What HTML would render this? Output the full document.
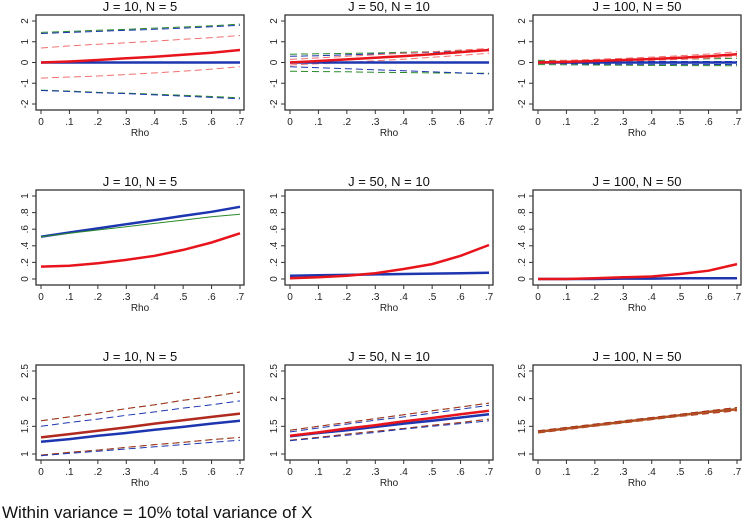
<!DOCTYPE html>
<html><head><meta charset="utf-8"><style>
body{margin:0;background:#fff;width:745px;height:524px;overflow:hidden;font-family:"Liberation Sans",sans-serif}
svg text{font-family:"Liberation Sans",sans-serif}
</style></head><body>
<svg id="chart" width="745" height="524" xmlns="http://www.w3.org/2000/svg">
<text x="2" y="518" font-size="17" fill="#111">Within variance = 10% total variance of X</text>
</svg>
<script>
const rho=[0,.1,.2,.3,.4,.5,.6,.7];
const xTicks=["0",".1",".2",".3",".4",".5",".6",".7"];
const titles=["J = 10, N = 5","J = 50, N = 10","J = 100, N = 50"];
const yTicksRow1=[-2,-1,0,1,2];
const yTicksRow2=[0,.2,.4,.6,.8,1];
const yTicksRow3=[1,1.5,2,2.5];
const yLabRow1=["-2","-1","0","1","2"];
const yLabRow2=["0",".2",".4",".6",".8","1"];
const yLabRow3=["1","1.5","2","2.5"];
// Row 1
const p11BlueSolid=[0,0,0,0,0,0,0,0];
const p11RedSolid=[0,.05,.12,.2,.28,.37,.47,.6];
const p11RedUp=[.7,.8,.88,.95,1.03,1.12,1.2,1.3];
const p11RedLo=[-.75,-.7,-.65,-.58,-.5,-.42,-.32,-.2];
const p11BlueUp=[1.4,1.45,1.5,1.55,1.6,1.66,1.72,1.8];
const p11GreenUp=[1.45,1.5,1.55,1.6,1.66,1.71,1.77,1.85];
const p11BlueLo=[-1.35,-1.4,-1.46,-1.5,-1.56,-1.62,-1.68,-1.75];
const p11GreenLo=[-1.33,-1.38,-1.44,-1.48,-1.53,-1.58,-1.64,-1.7];
const p12BlueSolid=[0,0,0,0,0,0,0,0];
const p12RedSolid=[0,.07,.15,.23,.31,.4,.5,.6];
const p12RedUp=[.15,.22,.3,.37,.45,.52,.6,.68];
const p12RedLo=[-.12,-.06,0,.08,.16,.25,.34,.45];
const p12GreenUp=[.4,.42,.44,.46,.49,.52,.56,.6];
const p12GreenLo=[-.42,-.44,-.45,-.47,-.48,-.5,-.51,-.52];
const p12BlueUp=[.3,.33,.37,.41,.45,.49,.53,.57];
const p12BlueLo=[-.2,-.25,-.3,-.35,-.4,-.45,-.5,-.55];
const p13BlueSolid=[0,0,0,0,0,0,0,0];
const p13RedSolid=[0,.03,.07,.12,.17,.23,.3,.4];
const p13RedUp=[.05,.1,.15,.2,.26,.33,.41,.52];
const p13RedLo=[-.05,-.02,.02,.06,.1,.15,.21,.3];
const p13GreenUp=[.1,.1,.11,.12,.14,.16,.18,.2];
const p13GreenLo=[-.1,-.11,-.12,-.13,-.14,-.15,-.15,-.16];
const p13BlueUp=[.05,.05,.05,.05,.05,.05,.05,.05];
const p13BlueLo=[-.05,-.06,-.07,-.08,-.08,-.09,-.09,-.1];
// Row 2
const p21Blue=[.51,.56,.61,.66,.71,.76,.81,.87];
const p21Green=[.51,.55,.59,.63,.67,.71,.75,.78];
const p21Red=[.15,.16,.19,.23,.28,.35,.44,.55];
const p22Blue=[.04,.045,.05,.055,.06,.065,.07,.075];
const p22Red=[.01,.02,.04,.07,.12,.18,.28,.41];
const p23Blue=[0,0,0,.005,.005,.01,.01,.01];
const p23Red=[0,0,.01,.02,.03,.06,.1,.18];
// Row 3
const p31RedSolid=[1.3,1.36,1.42,1.48,1.55,1.61,1.67,1.73];
const p31BlueSolid=[1.22,1.27,1.33,1.38,1.44,1.49,1.55,1.6];
const p31GreenUp=[1.6,1.67,1.74,1.82,1.89,1.97,2.04,2.12];
const p31BlueUp=[1.5,1.57,1.63,1.7,1.76,1.83,1.89,1.96];
const p31GreenLo=[.98,1.03,1.07,1.12,1.17,1.21,1.26,1.3];
const p31BlueLo=[.97,1.01,1.05,1.09,1.13,1.17,1.21,1.25];
const p32RedSolid=[1.33,1.39,1.46,1.52,1.59,1.65,1.72,1.78];
const p32BlueSolid=[1.32,1.38,1.43,1.49,1.55,1.6,1.66,1.72];
const p32GreenUp=[1.43,1.5,1.57,1.64,1.71,1.78,1.85,1.92];
const p32BlueUp=[1.4,1.47,1.54,1.61,1.67,1.74,1.81,1.88];
const p32GreenLo=[1.25,1.3,1.36,1.41,1.46,1.52,1.57,1.63];
const p32BlueLo=[1.24,1.29,1.34,1.39,1.45,1.5,1.55,1.6];
const p33RedSolid=[1.4,1.46,1.52,1.58,1.64,1.7,1.76,1.81];
const p33Up=[1.42,1.48,1.54,1.6,1.66,1.72,1.78,1.84];
const p33Lo=[1.38,1.44,1.5,1.56,1.62,1.68,1.73,1.78];

const RED="#e8141c",BLUE="#1d36b0",GREEN="#2a8a2a",LRED="#f07070";
const panels=[
 {r:0,c:0,yt:yTicksRow1,yl:yLabRow1,s:[[p11GreenUp,GREEN,1,1],[p11BlueUp,BLUE,1,1],[p11GreenLo,GREEN,1,1],[p11BlueLo,BLUE,1,1],[p11RedUp,LRED,1,1],[p11RedLo,LRED,1,1],[p11BlueSolid,BLUE,2.5,0],[p11RedSolid,RED,2.5,0]]},
 {r:0,c:1,yt:yTicksRow1,yl:yLabRow1,s:[[p12GreenUp,GREEN,1,1],[p12GreenLo,GREEN,1,1],[p12BlueUp,BLUE,1,1],[p12BlueLo,BLUE,1,1],[p12RedUp,LRED,1,1],[p12RedLo,LRED,1,1],[p12BlueSolid,BLUE,2.5,0],[p12RedSolid,RED,2.5,0]]},
 {r:0,c:2,yt:yTicksRow1,yl:yLabRow1,s:[[p13GreenUp,GREEN,1,1],[p13GreenLo,GREEN,1,1],[p13BlueUp,BLUE,1,1],[p13BlueLo,BLUE,1,1],[p13RedUp,LRED,1,1],[p13RedLo,LRED,1,1],[p13BlueSolid,BLUE,2.5,0],[p13RedSolid,RED,2.5,0]]},
 {r:1,c:0,yt:yTicksRow2,yl:yLabRow2,s:[[p21Blue,BLUE,2.5,0],[p21Green,GREEN,1,0],[p21Red,RED,2.5,0]]},
 {r:1,c:1,yt:yTicksRow2,yl:yLabRow2,s:[[p22Blue,BLUE,2.5,0],[p22Red,RED,2.5,0]]},
 {r:1,c:2,yt:yTicksRow2,yl:yLabRow2,s:[[p23Blue,BLUE,2.5,0],[p23Red,RED,2.5,0]]},
 {r:2,c:0,yt:yTicksRow3,yl:yLabRow3,s:[[p31GreenUp,GREEN,1,1],[p31GreenUp,"#b03020",1,1],[p31BlueUp,BLUE,1,1],[p31GreenLo,GREEN,1,1],[p31GreenLo,"#b03020",1,1],[p31BlueLo,BLUE,1,1],[p31BlueSolid,BLUE,2.5,0],[p31RedSolid,"#b02a20",2.5,0]]},
 {r:2,c:1,yt:yTicksRow3,yl:yLabRow3,s:[[p32GreenUp,GREEN,1,1],[p32GreenUp,"#b03020",1,1],[p32BlueUp,BLUE,1,1],[p32GreenLo,GREEN,1,1],[p32GreenLo,"#b03020",1,1],[p32BlueLo,BLUE,1,1],[p32BlueSolid,BLUE,2.5,0],[p32RedSolid,RED,2.5,0]]},
 {r:2,c:2,yt:yTicksRow3,yl:yLabRow3,s:[[p33Up,GREEN,1,1],[p33Lo,"#b03020",1,1],[p33RedSolid,"#b05020",2.5,0],[p33Up,"#b03020",1,1]]}
];
const NS="http://www.w3.org/2000/svg";
const svg=document.getElementById("chart");
function mk(t,a,p){const e=document.createElementNS(NS,t);for(const k in a)e.setAttribute(k,a[k]);(p||svg).appendChild(e);return e;}
const colX=[36,285,533],rowY=[15,190,365],W=208,H=95;
panels.forEach(P=>{
  const bx=colX[P.c],by=rowY[P.r];
  const g=mk("g",{});
  
  
  const x0=bx+5,x1=bx+W-4,y0=by+H-6,y1=by+6;
  const ymin=P.yt[0],ymax=P.yt[P.yt.length-1];
  const sx=v=>x0+(v-rho[0])/(rho[rho.length-1]-rho[0])*(x1-x0);
  const sy=v=>y0-(v-ymin)/(ymax-ymin)*(y0-y1);
  const t=mk("text",{x:bx+W/2,y:by-4,"font-size":13,"text-anchor":"middle",fill:"#111"},g);
  t.textContent=titles[P.c];
  
  
  P.s.forEach(s=>{
    const d=rho.map((r,i)=>(i?"L":"M")+sx(r).toFixed(1)+","+sy(s[0][i]).toFixed(1)).join("");
    const p=mk("path",{d:d,fill:"none",stroke:s[1],"stroke-width":s[2]},g);
    if(s[3])p.setAttribute("stroke-dasharray","7,4");
    
    
  });
  const box=mk("rect",{x:bx,y:by,width:W,height:H,fill:"none",stroke:"#333","stroke-width":1.3},g);
  
  
  rho.forEach((r,i)=>{
    const x=sx(r);
    mk("line",{x1:x,x2:x,y1:by+H,y2:by+H+4,stroke:"#333"},g);
    const tl=mk("text",{x:x,y:by+H+15,"font-size":10,"text-anchor":"middle",fill:"#222"},g);
    tl.textContent=xTicks[i];
    
    
  });
  P.yt.forEach((v,i)=>{
    const y=sy(v);
    mk("line",{x1:bx-4,x2:bx,y1:y,y2:y,stroke:"#333"},g);
    const tl=mk("text",{x:0,y:0,"font-size":10,"text-anchor":"middle",fill:"#222",transform:"translate("+(bx-8)+","+y+") rotate(-90)"},g);
    tl.textContent=P.yl[i];
    
    
  });
  const xt=mk("text",{x:bx+W/2,y:by+H+26,"font-size":10,"text-anchor":"middle",fill:"#222"},g);
  xt.textContent="Rho";
  
  
});
</script>
</body></html>
